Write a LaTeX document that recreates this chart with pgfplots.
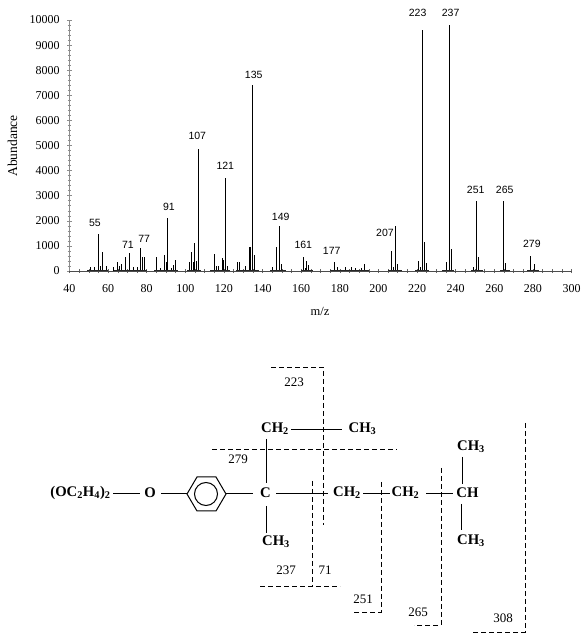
\documentclass[border=0pt]{standalone}
\usepackage{pgfplots}
\pgfplotsset{compat=1.18}
\usepackage{fontspec}
\setmainfont{Liberation Serif}
\setsansfont{Liberation Sans}
\pgfplotstableread{
x y l
53.2 1912 55
70.3 1056 71
78.7 1275 77
91.5 2550 91
106.2 5378 107
120.7 4183 121
135.4 7809 135
149.4 2151 149
161.1 1036 161
175.8 809 177
203.4 1514 207
220.3 10279 223
237.4 10279 237
250.4 3227 251
265.4 3227 265
279.5 1076 279
}\peaklabels
\begin{document}
\begin{tikzpicture}
\path (0,0) rectangle (588pt,643pt);
\begin{axis}[at={(69.5pt,372pt)},anchor=south west,scale only axis,width=502pt,height=251pt,
 xmin=40,xmax=300,ymin=0,ymax=10000,
 axis x line=bottom,axis y line=left,
 x axis line style={-,black!70,line width=0.6pt},
 y axis line style={-,black!45,line width=0.7pt},
 xtick={40,60,...,300},minor x tick num=3,
 ytick={0,1000,...,10000},minor y tick num=4,
 tick align=center,
 x tick style={black!60,line width=0.5pt},
 y tick style={black!45,line width=0.5pt},
 major tick length=4.5pt,minor tick length=3.5pt,
 tick label style={font=\fontsize{12}{12}\selectfont},
 xticklabel style={yshift=-8pt},
 yticklabel style={xshift=-4pt},
 /pgf/number format/assume math mode=true,
 /pgf/number format/1000 sep={},
 scaled y ticks=false,
 unbounded coords=jump,
 clip=false,
]
\addplot[black,line width=1pt,ycomb,mark=none] coordinates {
(51,170)(53,170)(55,1460)(56,190)(57,770)(59,190)
(63,170)(65,340)(66,200)(67,290)(69,540)(71,730)(73,170)(75,170)(77,930)(78,550)(79,550)
(85,550)(87,130)(89,630)(90,350)(91,2100)(93,100)(94,250)(95,420)
(102,370)(103,750)(104,350)(105,1100)(106,400)(107,4850)
(115,670)(116,200)(117,200)(119,510)(120,450)(121,3720)(122,200)
(127,350)(128,350)(131,200)(133,960)(134,960)(135,7430)(136,620)
(145,170)(147,950)(149,1800)(150,280)
(161,570)(162,100)(163,400)(164,220)
(177,350)(179,150)(183,150)(186,170)(188,100)(191,110)(193,290)
(207,800)(208,150)(209,1800)(210,280)
(221,400)(222,150)(223,9600)(224,1150)(225,320)
(235,350)(237,9800)(238,870)
(249,150)(251,2780)(252,560)
(265,2780)(266,300)
(279,600)(281,280)
};
\addplot[black!85,line width=0.7pt,mark=none] coordinates {
(49,15)(60,15)(nan,nan)(63,15)(80,15)(nan,nan)(84,15)(96,15)(nan,nan)(101,15)(108,15)(nan,nan)
(113,15)(123,15)(nan,nan)(126,15)(138,15)(nan,nan)(144,15)(152,15)(nan,nan)(160,15)(166,15)(nan,nan)
(175,15)(195,15)(nan,nan)(205,15)(212,15)(nan,nan)(219,15)(226,15)(nan,nan)(233,15)(239,15)(nan,nan)
(248,15)(254,15)(nan,nan)(263,15)(268,15)(nan,nan)(277,15)(283,15)
};
\addplot[only marks,mark=none,point meta=explicit symbolic,
 nodes near coords,
 nodes near coords align={anchor=center},
 every node near coord/.append style={font=\sffamily\fontsize{10.5}{12}\selectfont,inner sep=0pt,anchor=center}]
 table[x=x,y=y,meta=l] {\peaklabels};
\end{axis}
\node[rotate=90,font=\fontsize{13.5}{14}\selectfont] at (12.5pt,497pt) {Abundance};
\node[font=\fontsize{12.5}{14}\selectfont] at (320pt,332pt) {m/z};
\begin{scope}[x=1pt,y=-1pt,shift={(0pt,643pt)},line width=1pt,
 lab/.style={font=\bfseries\fontsize{14.7}{15}\selectfont,inner sep=0pt},
 num/.style={font=\fontsize{13}{14}\selectfont,inner sep=0pt},
 d/.style={dash pattern=on 5pt off 3pt,line width=0.7pt}]
% structure
\node[lab] at (80.5,493) {(OC\textsubscript{2}H\textsubscript{4})\textsubscript{2}};
\node[lab] at (150,493) {O};
\node[lab] at (265.5,493) {C};
\node[lab] at (275,429) {CH\textsubscript{2}};
\node[lab] at (362.5,429) {CH\textsubscript{3}};
\node[lab] at (347,493) {CH\textsubscript{2}};
\node[lab] at (405.5,493) {CH\textsubscript{2}};
\node[lab] at (467.5,493) {CH};
\node[lab] at (471,447) {CH\textsubscript{3}};
\node[lab] at (471,541) {CH\textsubscript{3}};
\node[lab] at (276,542) {CH\textsubscript{3}};
\draw (113,494)--(140,494) (161,494)--(187,494);
\draw (187,494)--(197,477)--(216,477)--(226,494)--(216,511)--(197,511)--cycle;
\draw (206,494) circle (11.5);
\draw (226,494)--(253,494) (276,494)--(328,494);
\draw (266,439)--(266,483) (266,506)--(266,533);
\draw (291,430)--(342,430);
\draw (363,494)--(390,494) (426,494)--(453,494);
\draw (462,457)--(462,484) (461,504)--(461,530);
% dashed
\draw[d] (271,367)--(323,367)--(323,525);
\draw[d] (212,449)--(397,449);
\draw[d] (312,481)--(312,586);
\draw[d] (260,586)--(340,586);
\draw[d] (381,482)--(381,612)--(354,612);
\draw[d] (441,468)--(441,625)--(414,625);
\draw[d] (525,423)--(525,632)--(473,632);
\node[num] at (294,382) {223};
\node[num] at (238,459) {279};
\node[num] at (286,570) {237};
\node[num] at (325,570) {71};
\node[num] at (363,599) {251};
\node[num] at (418,612) {265};
\node[num] at (503,618) {308};
\end{scope}
\end{tikzpicture}
\end{document}
